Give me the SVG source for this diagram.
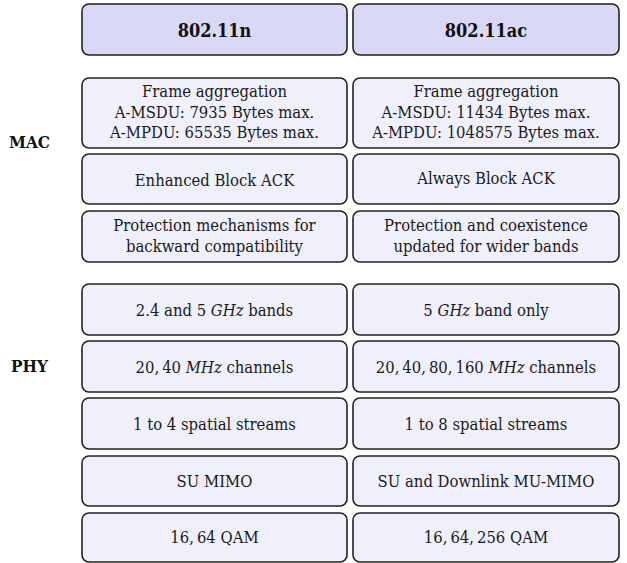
<svg xmlns="http://www.w3.org/2000/svg" width="627" height="563" viewBox="0 0 627 563">
<style>
.box{fill:#f0f0fc;stroke:#222;stroke-width:1.6}
.hdr{fill:#d9d9f7;stroke:#222;stroke-width:1.6}
text{font-family:"DejaVu Serif Condensed","DejaVu Serif","Liberation Serif",serif;font-stretch:condensed;font-size:16.5px;fill:#1a1a1a;text-anchor:middle}
.b{font-weight:bold;font-size:17px;fill:#111}
.h{font-weight:bold;font-size:18px;fill:#111}
.i{font-style:italic}
</style>
<rect width="627" height="563" fill="#ffffff"/>
<g id="label-mac"><text class="b" x="29.5" y="148">MAC</text></g>
<g id="label-phy"><text class="b" x="29.5" y="372">PHY</text></g>
<g id="n-head"><rect class="hdr" x="82" y="4" width="265" height="51" rx="7"/><text class="h" x="214.5" y="37">802.11n</text></g>
<g id="ac-head"><rect class="hdr" x="353" y="4" width="266" height="51" rx="7"/><text class="h" x="486" y="37">802.11ac</text></g>
<g id="n-agg"><rect class="box" x="82" y="78" width="265" height="70" rx="7"/><text x="214.5" y="97">Frame aggregation</text><text x="214.5" y="117.5">A-MSDU: 7935 Bytes max.</text><text x="214.5" y="138">A-MPDU: 65535 Bytes max.</text></g>
<g id="ac-agg"><rect class="box" x="353" y="78" width="266" height="70" rx="7"/><text x="486" y="97">Frame aggregation</text><text x="486" y="117.5">A-MSDU: 11434 Bytes max.</text><text x="486" y="138">A-MPDU: 1048575 Bytes max.</text></g>
<g id="n-ack"><rect class="box" x="82" y="154" width="265" height="50" rx="7"/><text x="214.5" y="186">Enhanced Block ACK</text></g>
<g id="ac-ack"><rect class="box" x="353" y="154" width="266" height="50" rx="7"/><text x="486" y="184">Always Block ACK</text></g>
<g id="n-prot"><rect class="box" x="82" y="211" width="265" height="51" rx="7"/><text x="214.5" y="231">Protection mechanisms for</text><text x="214.5" y="252">backward compatibility</text></g>
<g id="ac-prot"><rect class="box" x="353" y="211" width="266" height="51" rx="7"/><text x="486" y="231">Protection and coexistence</text><text x="486" y="252">updated for wider bands</text></g>
<g id="n-band"><rect class="box" x="82" y="284" width="265" height="51" rx="7"/><text x="214.5" y="316">2.4 and 5 <tspan class="i">GHz</tspan> bands</text></g>
<g id="ac-band"><rect class="box" x="353" y="284" width="266" height="51" rx="7"/><text x="486" y="316">5 <tspan class="i">GHz</tspan> band only</text></g>
<g id="n-chan"><rect class="box" x="82" y="341" width="265" height="51" rx="7"/><text x="214.5" y="373">20,&#8201;40 <tspan class="i">MHz</tspan> channels</text></g>
<g id="ac-chan"><rect class="box" x="353" y="341" width="266" height="51" rx="7"/><text x="486" y="373">20,&#8201;40,&#8201;80,&#8201;160 <tspan class="i">MHz</tspan> channels</text></g>
<g id="n-ss"><rect class="box" x="82" y="398" width="265" height="51" rx="7"/><text x="214.5" y="430">1 to 4 spatial streams</text></g>
<g id="ac-ss"><rect class="box" x="353" y="398" width="266" height="51" rx="7"/><text x="486" y="430">1 to 8 spatial streams</text></g>
<g id="n-mimo"><rect class="box" x="82" y="456" width="265" height="50" rx="7"/><text x="214.5" y="487">SU MIMO</text></g>
<g id="ac-mimo"><rect class="box" x="353" y="456" width="266" height="50" rx="7"/><text x="486" y="487">SU and Downlink MU-MIMO</text></g>
<g id="n-qam"><rect class="box" x="82" y="513" width="265" height="49" rx="7"/><text x="214.5" y="543">16,&#8201;64 QAM</text></g>
<g id="ac-qam"><rect class="box" x="353" y="513" width="266" height="49" rx="7"/><text x="486" y="543">16,&#8201;64,&#8201;256 QAM</text></g>
<g id="connectors"></g>
</svg>
